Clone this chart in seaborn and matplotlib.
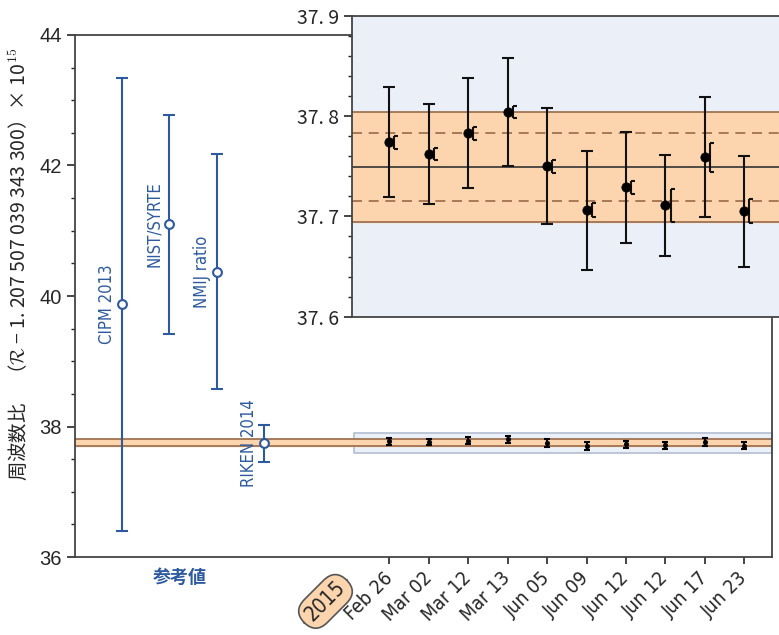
import numpy as np
import matplotlib
matplotlib.use("Agg")
import matplotlib.pyplot as plt
import matplotlib.markers as mmarkers
from matplotlib.ticker import MultipleLocator
import seaborn as sns

# --- reference values (blue, left part) ---
ref_names = ["CIPM 2013", "NIST/SYRTE", "NMIJ ratio", "RIKEN 2014"]
ref_values = [39.87, 41.10, 40.37, 37.74]
ref_errors = [3.47, 1.68, 1.80, 0.28]

# --- 2015 measurements ---
dates = ["Feb 26", "Mar 02", "Mar 12", "Mar 13", "Jun 05",
         "Jun 09", "Jun 12", "Jun 12", "Jun 17", "Jun 23"]
meas_values = [37.774, 37.762, 37.783, 37.804, 37.750,
               37.706, 37.729, 37.711, 37.759, 37.705]
meas_errors = [0.055, 0.050, 0.055, 0.054, 0.058,
               0.059, 0.055, 0.050, 0.060, 0.055]
meas_sys = [0.0067, 0.0060, 0.0067, 0.0062, 0.0067,
            0.0070, 0.0068, 0.0167, 0.0143, 0.0120]

# weighted mean band
mean_value = 37.749
inner_err = 0.034
outer_err = 0.055

blue = "#2d5a9e"
peach = "#fcd5ae"
brown = "#9a6a48"
inset_bg = "#eaeff8"

sns.set_theme(style="ticks")
plt.rcParams["font.family"] = ["Liberation Sans", "Noto Sans CJK JP", "DejaVu Sans"]
plt.rcParams["mathtext.fontset"] = "cm"
narrow = dict(family="DejaVu Sans", stretch="condensed")

ref_x = 1.22 + 1.2 * np.arange(len(ref_names))
meas_x = 8 + np.arange(len(dates))

fig = plt.figure(figsize=(7.79, 6.35), dpi=100)
ax = fig.add_axes([0.0963, 0.1228, 0.8947, 0.8221])
ax.set_xlim(0.03, 17.70)
ax.set_ylim(36, 44)

inset_left = 7.10

# zoom window marker and band in the main axes
ax.fill_between([inset_left, 17.70], 37.6, 37.9, color=inset_bg, ec="#b4bed0", lw=1.2, zorder=1)
ax.axhspan(mean_value - outer_err, mean_value + outer_err, color=peach, zorder=2)
for yy in (mean_value - outer_err, mean_value + outer_err):
    ax.axhline(yy, color=brown, lw=1.2, zorder=2)

# reference values
ax.errorbar(ref_x, ref_values, yerr=ref_errors, fmt="none", ecolor=blue,
            elinewidth=1.5, capsize=4, capthick=1.5, zorder=3)
sns.scatterplot(x=ref_x, y=ref_values, ax=ax, marker="o", s=40, color="white",
                edgecolor=blue, linewidth=1.5, zorder=4)
for xx, yy, name in zip(ref_x, ref_values, ref_names):
    ax.text(xx - 0.38, yy, name, rotation=90, ha="center", va="center",
            color=blue, fontsize=12, **narrow)

# measurements in the main axes (small)
ax.errorbar(meas_x, meas_values, yerr=meas_errors, fmt="none", ecolor="black",
            elinewidth=1.5, capsize=2.5, capthick=1.5, zorder=3)
sns.scatterplot(x=meas_x, y=meas_values, ax=ax, s=12, color="black", edgecolor="black", zorder=4)

ax.yaxis.set_major_locator(MultipleLocator(2))
ax.yaxis.set_minor_locator(MultipleLocator(0.5))
ax.tick_params(axis="y", which="major", direction="out", length=6, width=1.2, labelsize=14.5)
ax.tick_params(axis="y", which="minor", direction="out", length=3, width=1)
ax.set_xticks(meas_x)
ax.set_xticklabels(dates, rotation=45, ha="right", va="center", rotation_mode="anchor",
                   fontsize=14, **narrow)
ax.tick_params(axis="x", direction="out", length=5, width=1.2, pad=8)
for s in ax.spines.values():
    s.set_color("#444444")
    s.set_linewidth(1.3)

ax.text(6.38, -0.085, "2015", transform=ax.get_xaxis_transform(), rotation=45,
        ha="center", va="center", fontsize=15, **narrow,
        bbox=dict(boxstyle="round,pad=0.3,rounding_size=0.8", fc=peach, ec="#555555", lw=1.2))
ax.text(2.69, -0.040, "参考値", transform=ax.get_xaxis_transform(), ha="center", va="center",
        color=blue, fontsize=13, fontweight="bold", family=["Noto Sans CJK JP", "DejaVu Sans"])

fig.text(0.024, 0.583, "周波数比\u3000（$\\mathcal{R}$ − 1. 207 507 039 343 300）× 10$^{15}$",
         rotation=90, ha="center", va="center", fontsize=14,
         family=["Noto Sans CJK JP", "DejaVu Sans"])

# --- inset ---
axin = fig.add_axes([0.4519, 0.5013, 0.58, 0.4735])
axin.set_facecolor(inset_bg)
axin.set_xlim(7.054, 18.51)
axin.set_ylim(37.6, 37.9)
axin.axhspan(mean_value - outer_err, mean_value + outer_err, color=peach, zorder=1)
for yy in (mean_value - outer_err, mean_value + outer_err):
    axin.axhline(yy, color=brown, lw=1.2, zorder=2)
for yy in (mean_value - inner_err, mean_value + inner_err):
    axin.axhline(yy, color=brown, lw=1.2, ls=(0, (6, 4)), zorder=2)
axin.axhline(mean_value, color="#333333", lw=1.2, zorder=2)

axin.errorbar(meas_x, meas_values, yerr=meas_errors, fmt="none", ecolor="#111111",
              elinewidth=1.5, capsize=4.5, capthick=1.5, zorder=3)
sns.scatterplot(x=meas_x, y=meas_values, ax=axin, s=45, color="black", edgecolor="black", zorder=4)
sys_bars = axin.errorbar(meas_x + 0.13, meas_values, yerr=meas_sys, fmt="none", ecolor="#111111",
                         elinewidth=1.5, capsize=3, capthick=1.5, zorder=3)
for cap in sys_bars[1]:
    cap.set_marker(mmarkers.TICKRIGHT)
    cap.set_markersize(3)

axin.set_xticks([])
axin.yaxis.set_major_locator(MultipleLocator(0.1))
axin.yaxis.set_minor_locator(MultipleLocator(0.02))
inset_ticks = [37.6, 37.7, 37.8, 37.9]
axin.set_yticks(inset_ticks)
axin.set_yticklabels([f"{t:.1f}".replace(".", ". ") for t in inset_ticks],
                     fontsize=14, family=["Noto Sans CJK JP", "DejaVu Sans"])
axin.tick_params(axis="y", which="major", direction="out", length=6, width=1.2)
axin.tick_params(axis="y", which="minor", direction="out", length=3, width=1)
for s in axin.spines.values():
    s.set_color("#444444")
    s.set_linewidth(1.3)

fig.savefig("out.png", dpi=100)
